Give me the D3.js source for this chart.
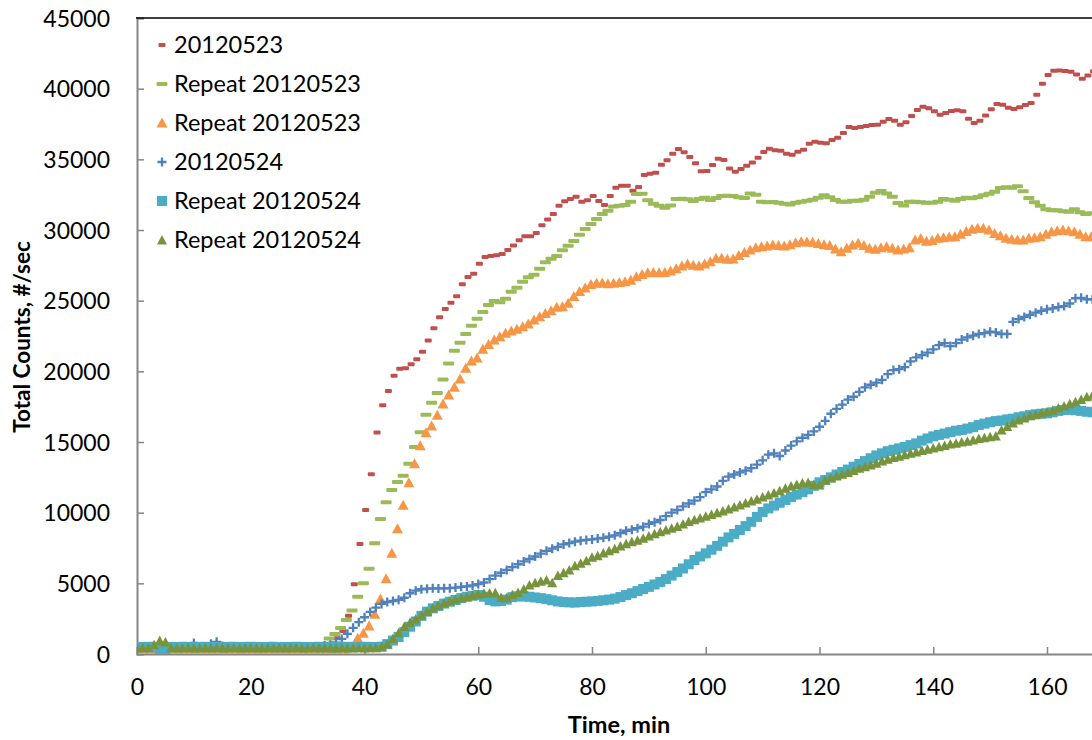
<!DOCTYPE html>
<html>
<head>
<meta charset="utf-8">
<script src="https://cdn.jsdelivr.net/npm/d3@7/dist/d3.min.js"></script>
<style>
  html, body { margin: 0; padding: 0; background: #ffffff; overflow: hidden; }
  svg { display: block; font-family: Lato, "Open Sans", sans-serif; }
</style>
</head>
<body>
<svg id="chart" width="1092" height="740"></svg>
<script>
// ---- data: total counts (#/sec), one reading per minute ----
const seriesNames = ["20120523", "Repeat 20120523", "Repeat 20120523", "20120524", "Repeat 20120524", "Repeat 20120524"];
const startTimes = [0.2, 0.8, 0.8, 0, 0, 0]; // minute of the first reading of each run
const xTicks = [0, 20, 40, 60, 80, 100, 120, 140, 160];
const yTicks = [0, 5000, 10000, 15000, 20000, 25000, 30000, 35000, 40000, 45000];

const run0523 = [
  320,300,310,330,300,290,310,320,300,310,330,320,300,290,310,300,320,310,300,290,
  300,310,320,300,310,300,290,310,320,330,350,380,450,600,750,1110,1630,2710,4930,7780,
  10190,12710,15680,17600,18600,19690,20190,20210,20500,20850,21390,22190,23040,23820,24410,24860,25310,26160,26670,26910,
  27610,28090,28160,28210,28300,28580,28910,29270,29550,29550,29790,30330,30750,31130,31720,32030,32190,32350,32000,32100,
  32400,32050,31770,32400,32990,33130,33130,32780,33040,33890,33980,34050,34620,34930,35400,35730,35500,35160,34720,34150,
  34170,34600,35040,34950,34360,34120,34310,34550,34780,35110,35520,35750,35640,35610,35400,35330,35540,35680,36110,36250,
  36180,36130,36370,36530,36860,37290,37220,37290,37360,37430,37450,37660,37850,37730,37450,37620,38060,38490,38720,38610,
  38400,38160,38280,38420,38470,38400,37880,37570,37730,38110,38540,38910,38860,38650,38560,38680,38840,38980,39570,40350,
  40960,41270,41290,41250,41200,41010,40700,40930,41230
];

const repeat0523a = [
  300,310,290,300,320,300,290,310,300,300,320,310,300,290,300,310,300,320,300,290,
  310,300,300,310,290,300,320,300,310,300,330,380,700,1100,1420,1840,2400,3070,4050,5000,
  6040,7830,9550,10730,11600,12170,12620,13460,14650,15690,16930,17780,18470,19430,20560,21460,22020,22640,23230,23720,
  24200,24690,24980,24880,25140,25630,25920,26340,26650,26840,27260,27710,27970,28160,28560,28890,29220,29670,30070,30420,
  30780,31130,31360,31670,31720,31770,32000,32550,32570,32100,31860,31720,31580,31740,32190,32210,32170,32050,32190,32280,
  32120,32260,32400,32420,32400,32310,32260,32590,32500,32000,31960,31980,31930,31860,31810,31930,32000,32070,32140,32280,
  32450,32310,32120,32000,32000,32070,32070,32140,32350,32640,32760,32590,32350,31910,31740,32000,32000,31960,31930,31930,
  32000,32190,32140,32070,32190,32280,32240,32330,32450,32570,32710,32970,33020,32990,33090,32740,32260,31960,31720,31460,
  31390,31390,31320,31290,31460,31250,31130,31180
];

const repeat0523b = [
  10,20,10,0,10,20,10,10,0,10,20,10,10,0,10,20,10,10,0,10,
  20,10,10,0,10,20,10,10,0,10,20,10,10,0,10,20,10,500,1110,1460,
  1980,2810,3890,5330,7120,8870,10520,12120,13460,14740,15660,16130,16890,17690,18320,18870,19460,20210,20730,20940,
  21560,21900,22210,22450,22690,22850,22970,23160,23350,23630,23870,24100,24290,24530,24570,24810,25300,25650,25900,26150,
  26230,26250,26200,26230,26280,26340,26450,26690,26850,26980,27000,26970,27000,27100,27250,27450,27600,27500,27450,27600,
  27750,28000,28000,27930,27950,28200,28400,28580,28750,28820,28870,28940,28900,28870,28950,29100,29170,29150,29130,29050,
  28950,28900,28650,28460,28700,28940,29060,28900,28700,28630,28750,28820,28700,28580,28650,28750,29300,29400,29200,29250,
  29410,29450,29500,29520,29700,29900,30050,30120,30120,30000,29760,29600,29410,29350,29290,29300,29410,29450,29520,29700,
  29880,29950,30000,29950,29880,29700,29520,29520
];

const run0524 = [
  500,480,490,500,480,470,490,500,480,510,780,520,500,720,860,560,500,490,480,500,
  490,480,500,490,480,470,490,500,480,490,500,480,520,600,660,800,1070,1430,1850,2250,
  2600,2980,3280,3540,3680,3750,3830,3980,4300,4480,4580,4620,4650,4640,4650,4660,4700,4750,4780,4850,
  4950,5060,5300,5550,5750,5950,6150,6350,6550,6720,6900,7100,7300,7450,7580,7750,7850,7950,8020,8070,
  8110,8170,8220,8300,8400,8550,8720,8800,8900,9010,9200,9330,9480,9750,10000,10190,10450,10650,10850,11100,
  11450,11650,11850,12250,12550,12700,12850,12970,13150,13400,13700,14100,14200,14010,14400,14750,15050,15300,15500,15750,
  16080,16500,17000,17350,17650,18000,18200,18550,18870,19050,19200,19400,19800,20090,20150,20300,20700,20990,21150,21320,
  21550,21850,22000,21790,22000,22250,22400,22520,22640,22700,22800,22750,22640,22650,23500,23700,23850,24000,24150,24280,
  24390,24450,24550,24620,24800,25170,25200,25100,25100
];

const repeat0524a = [
  500,490,510,500,250,300,500,490,510,500,480,500,510,490,500,480,500,510,490,500,
  510,500,490,500,510,480,500,490,510,500,490,500,510,490,500,480,500,510,490,500,
  510,500,490,520,700,950,1200,1550,1930,2300,2700,3000,3230,3400,3570,3700,3820,3950,4050,4120,
  4170,4050,3820,3720,3750,3850,4020,4080,4070,4050,4000,3950,3880,3800,3720,3680,3650,3640,3680,3700,
  3720,3760,3800,3850,3920,4030,4170,4300,4450,4600,4750,4920,5100,5300,5550,5800,6050,6350,6650,6900,
  7120,7380,7650,7950,8250,8500,8770,9050,9350,9700,10050,10300,10500,10700,10900,11100,11280,11450,11650,11900,
  12150,12310,12500,12700,12880,13050,13250,13450,13650,13850,14050,14200,14350,14450,14550,14650,14780,14900,15100,15250,
  15400,15500,15600,15700,15800,15850,15950,16050,16200,16300,16400,16480,16520,16600,16650,16750,16820,16900,16960,17000,
  17030,17100,17200,17260,17280,17250,17200,17140,17100
];

const repeat0524b = [
  430,440,420,650,950,850,440,430,420,440,430,420,440,430,450,420,430,440,430,420,
  440,430,420,440,430,450,430,420,440,430,420,440,430,450,430,420,440,430,420,440,
  430,440,450,520,700,1100,1500,1950,2220,2480,2750,3000,3250,3430,3600,3750,3880,3980,4050,4150,
  4250,4290,4320,4340,4000,3980,4200,4350,4600,4880,5050,5150,5240,5050,5550,5750,5950,6250,6420,6600,
  6850,6950,7150,7300,7450,7650,7800,7950,8050,8190,8350,8500,8650,8780,8900,9020,9200,9380,9500,9620,
  9750,9870,10000,10120,10260,10400,10540,10680,10820,10950,11100,11250,11400,11550,11720,11880,12000,12100,12130,12000,
  11960,12300,12450,12600,12720,12850,12980,13140,13250,13380,13500,13650,13780,13900,14000,14100,14200,14300,14400,14480,
  14580,14670,14750,14850,14920,15000,15050,15150,15250,15300,15380,15420,15850,16100,16350,16560,16700,16850,16950,17050,
  17140,17250,17400,17550,17700,17850,18000,18200,18300
];

const seriesValues = [run0523, repeat0523a, repeat0523b, run0524, repeat0524a, repeat0524b];

// ---- appearance of each series ----
const styles = [
  { color: "#C0504D", shape: "dashS" },
  { color: "#9BBB59", shape: "dashL" },
  { color: "#F79646", shape: "tri" },
  { color: "#4F81BD", shape: "plus" },
  { color: "#4BACC6", shape: "square" },
  { color: "#77933C", shape: "triS" }
];

const svg = d3.select("#chart");
const plotLeft = 137, plotTop = 18, plotBottom = 654;
const x = d3.scaleLinear().domain([0, 180]).range([plotLeft, plotLeft + 9 * 113.75]);
const y = d3.scaleLinear().domain([0, 45000]).range([plotBottom, plotTop]);

function drawMarker(g, shape, color) {
  if (shape === "dashS") {
    g.append("rect").attr("x", -3.5).attr("y", -2).attr("width", 7).attr("height", 4).attr("rx", 1).attr("fill", color);
  } else if (shape === "dashL") {
    g.append("rect").attr("x", -5.5).attr("y", -2).attr("width", 11).attr("height", 4).attr("rx", 1).attr("fill", color);
  } else if (shape === "tri") {
    g.append("path").attr("d", "M0,-5.5L5.5,4.5L-5.5,4.5Z").attr("fill", color);
  } else if (shape === "triS") {
    g.append("path").attr("d", "M0,-5L5,4.5L-5,4.5Z").attr("fill", color);
  } else if (shape === "square") {
    g.append("rect").attr("x", -5).attr("y", -5).attr("width", 10).attr("height", 10).attr("fill", color);
  } else if (shape === "plus") {
    g.append("path").attr("d", "M-4.5,0H4.5M0,-4.5V4.5").attr("stroke", color).attr("stroke-width", 2.3).attr("fill", "none");
  }
}

// plot-area clip for the data markers
svg.append("defs").append("clipPath").attr("id", "plot-clip")
  .append("rect").attr("x", plotLeft).attr("y", plotTop).attr("width", 1092 - plotLeft).attr("height", plotBottom - plotTop);

// ---- axes ----
const yAxis = d3.axisLeft(y).tickValues(yTicks).tickSize(-7).tickPadding(27).tickFormat(d3.format("d"));
const gy = svg.append("g").attr("transform", `translate(${plotLeft},0)`).call(yAxis);
gy.select(".domain").attr("stroke", "#868686").attr("stroke-width", 2);
gy.selectAll(".tick line").attr("stroke", "#868686").attr("stroke-width", 1.5);
gy.selectAll(".tick text").attr("font-size", 23).attr("fill", "#000").attr("font-family", "Lato").attr("dy", "0.36em");

const xAxis = d3.axisBottom(x).tickValues(xTicks).tickSize(-7).tickPadding(25).tickFormat(d3.format("d"));
const gx = svg.append("g").attr("transform", `translate(0,${plotBottom})`).call(xAxis);
gx.select(".domain").attr("stroke", "#868686").attr("stroke-width", 2);
gx.selectAll(".tick line").attr("stroke", "#868686").attr("stroke-width", 1.5);
gx.selectAll(".tick text").attr("font-size", 23).attr("fill", "#000").attr("font-family", "Lato");

// top edge of the plot area
svg.append("line").attr("x1", plotLeft - 1).attr("x2", 1092).attr("y1", plotTop).attr("y2", plotTop)
  .attr("stroke", "#000").attr("stroke-width", 1.3);

// ---- axis titles ----
svg.append("text").attr("x", 619).attr("y", 733).attr("text-anchor", "middle")
  .attr("font-size", 23.5).attr("font-weight", "bold").attr("font-family", "Lato").text("Time, min");
svg.append("text").attr("transform", "translate(30,337) rotate(-90)").attr("text-anchor", "middle")
  .attr("font-size", 22.5).attr("font-weight", "bold").attr("font-family", "Lato").text("Total Counts, #/sec");

// ---- markers ----
const marks = svg.append("g").attr("clip-path", "url(#plot-clip)");
seriesValues.forEach((vals, si) => {
  const st = styles[si];
  const g = marks.append("g").attr("class", "series-" + si);
  vals.forEach((v, i) => {
    const t = startTimes[si] + i;
    const m = g.append("g").attr("transform", `translate(${x(t)},${y(v)})`);
    drawMarker(m, st.shape, st.color);
  });
});

// ---- legend ----
const legend = svg.append("g");
seriesNames.forEach((name, i) => {
  const cy = 45 + i * 39;
  const m = legend.append("g").attr("transform", `translate(162,${cy})`);
  drawMarker(m, styles[i].shape, styles[i].color);
  legend.append("text").attr("x", 174).attr("y", cy + 8).attr("font-size", 23.5)
    .attr("font-family", "Lato").attr("fill", "#000").text(name);
});
</script>
</body>
</html>
